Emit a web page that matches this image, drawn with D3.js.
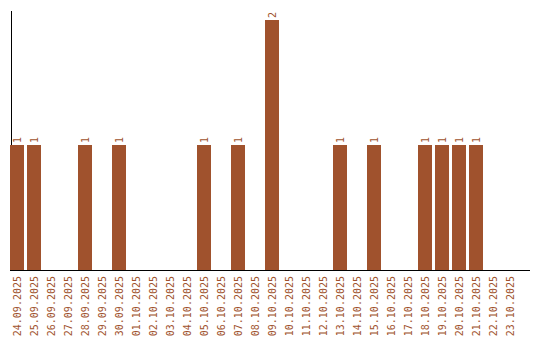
<!DOCTYPE html>
<html>
<head>
<meta charset="utf-8">
<script src="https://cdn.jsdelivr.net/npm/d3@7"></script>
<style>
  body { margin: 0; background: #fff; }
  svg { display: block; }
</style>
</head>
<body>
<svg id="chart" width="540" height="340"></svg>
<script>
// dates shown on the x axis
const dates = [
  "24.09.2025", "25.09.2025", "26.09.2025", "27.09.2025", "28.09.2025",
  "29.09.2025", "30.09.2025", "01.10.2025", "02.10.2025", "03.10.2025",
  "04.10.2025", "05.10.2025", "06.10.2025", "07.10.2025", "08.10.2025",
  "09.10.2025", "10.10.2025", "11.10.2025", "12.10.2025", "13.10.2025",
  "14.10.2025", "15.10.2025", "16.10.2025", "17.10.2025", "18.10.2025",
  "19.10.2025", "20.10.2025", "21.10.2025", "22.10.2025", "23.10.2025"
];
// count per day
const counts = [
  1, 1, 0, 0, 1,
  0, 1, 0, 0, 0,
  0, 1, 0, 1, 0,
  2, 0, 0, 0, 1,
  0, 1, 0, 0, 1,
  1, 1, 1, 0, 0
];

const color = "#a0522d";
const font = "'DejaVu Sans Mono', monospace";

const svg = d3.select("#chart");

const x = d3.scaleBand()
  .domain(dates)
  .range([10, 517])
  .paddingInner(3 / 17)
  .paddingOuter(0);

const y = d3.scaleLinear()
  .domain([0, 2.08])
  .range([270, 10]);

const data = dates.map((d, i) => ({ date: d, value: counts[i] }));

// y axis first, bars sit on top of it
const yAxis = svg.append("g")
  .attr("transform", "translate(10.5,0)")
  .call(d3.axisLeft(y).ticks(0).tickSize(0).tickSizeOuter(0));
yAxis.select(".domain")
  .attr("stroke", "#000")
  .attr("shape-rendering", "crispEdges");
yAxis.selectAll(".tick").remove();

// x axis
const xAxis = svg.append("g")
  .attr("transform", `translate(0,${y(0)})`)
  .call(d3.axisBottom(x).tickSize(0).tickSizeOuter(0));
xAxis.select(".domain")
  .attr("d", "M10,0.5H530")
  .attr("stroke", "#000")
  .attr("shape-rendering", "crispEdges");
xAxis.selectAll("text")
  .attr("fill", color)
  .style("font", `10px ${font}`)
  .attr("text-anchor", "end")
  .attr("dy", null)
  .attr("y", 0)
  .attr("transform", "translate(3.5,6) rotate(-90)");

// bars
svg.append("g")
  .selectAll("rect")
  .data(data.filter(d => d.value > 0))
  .join("rect")
  .attr("x", d => x(d.date))
  .attr("y", d => y(d.value))
  .attr("width", x.bandwidth())
  .attr("height", d => y(0) - y(d.value))
  .attr("fill", color);

// value labels
svg.append("g")
  .selectAll("text")
  .data(data.filter(d => d.value > 0))
  .join("text")
  .attr("transform", d => `translate(${x(d.date) + x.bandwidth() / 2 + 3.5},${y(d.value) - 2}) rotate(-90)`)
  .attr("fill", color)
  .style("font", `10px ${font}`)
  .text(d => d.value);
</script>
</body>
</html>
